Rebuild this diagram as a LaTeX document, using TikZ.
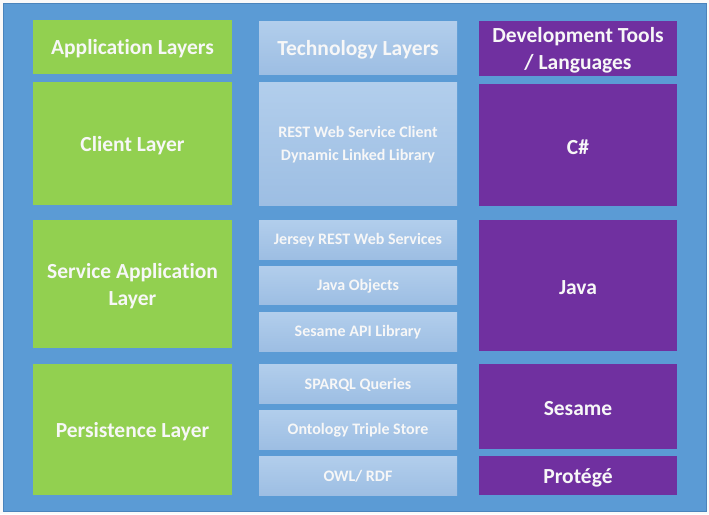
\documentclass[tikz,border=0pt]{standalone}
\usepackage{fontspec}
\setmainfont{Carlito}[BoldFont={Carlito Bold}, Ligatures={NoCommon}]
\definecolor{bgblue}{HTML}{5B9BD5}
\definecolor{bgedge}{HTML}{4A84BC}
\definecolor{lgreen}{HTML}{92D050}
\definecolor{vpurple}{HTML}{7030A0}
\definecolor{ltop}{HTML}{B2CEEC}
\definecolor{lbot}{HTML}{9DBEE3}
\definecolor{txt}{HTML}{F7F7F7}
\tikzset{
  box/.style={rectangle, inner sep=0pt, outer sep=0pt},
  greenbox/.style={box, fill=lgreen},
  purplebox/.style={box, fill=vpurple},
  techbox/.style={box, top color=ltop, bottom color=lbot},
  boxtext/.style={inner sep=0pt, align=center, text=txt},
  bigfont/.style={boxtext, yshift=-2pt, font=\fontsize{21.5}{27.5}\selectfont\bfseries},
  smallfont/.style={boxtext, yshift=-1pt, font=\fontsize{16}{23}\selectfont\bfseries},
}
\newcommand{\mybox}[8]{% box style, text style, name, x1, y1, x2, y2, text
  \node[#1, minimum width={(#6-#4)*1pt}, minimum height={(#7-#5)*1pt}] (#3) at ({(#4+#6)/2*1pt},{-(#5+#7)/2*1pt}) {};
  \node[#2] (#3-text) at (#3.center) {#8};}
\begin{document}
\begin{tikzpicture}[x=1pt,y=-1pt]
\useasboundingbox (0,0) rectangle (709,514);
\fill[white!95!gray] (0,0) rectangle (709,514);
\filldraw[fill=bgblue, draw=bgedge, line width=0.8pt] (3,3) rectangle (706,511);
% left column
\mybox{greenbox}{bigfont}{app}{33}{20}{232}{74}{Application Layers}
\mybox{greenbox}{bigfont}{client}{33}{82}{232}{205}{Client Layer}
\mybox{greenbox}{bigfont}{service}{33}{220}{232}{348}{Service Application\\Layer}
\mybox{greenbox}{bigfont}{persist}{33}{364}{232}{495}{Persistence Layer}
% middle column
\mybox{techbox}{bigfont}{tech}{259}{21}{457}{74}{Technology Layers}
\mybox{techbox}{smallfont}{rest}{259}{82}{457}{205}{REST Web Service Client\\Dynamic Linked Library}
\mybox{techbox}{smallfont}{jersey}{259}{220}{457}{259}{Jersey REST Web Services}
\mybox{techbox}{smallfont}{jobj}{259}{266}{457}{304}{Java Objects}
\mybox{techbox}{smallfont}{sapi}{259}{312}{457}{351}{Sesame API Library}
\mybox{techbox}{smallfont}{sparql}{259}{364}{457}{403}{SPARQL Queries}
\mybox{techbox}{smallfont}{onto}{259}{410}{457}{449}{Ontology Triple Store}
\mybox{techbox}{smallfont}{owl}{259}{456}{457}{495}{OWL/ RDF}
% right column
\mybox{purplebox}{bigfont}{dev}{479}{21}{677}{76}{Development Tools\\/ Languages}
\mybox{purplebox}{bigfont}{cs}{479}{84}{677}{206}{C\#}
\mybox{purplebox}{bigfont}{java}{479}{220}{677}{351}{Java}
\mybox{purplebox}{bigfont}{sesame}{479}{364}{677}{449}{Sesame}
\mybox{purplebox}{bigfont}{protege}{479}{456}{677}{495}{Protégé}
\end{tikzpicture}
\end{document}
